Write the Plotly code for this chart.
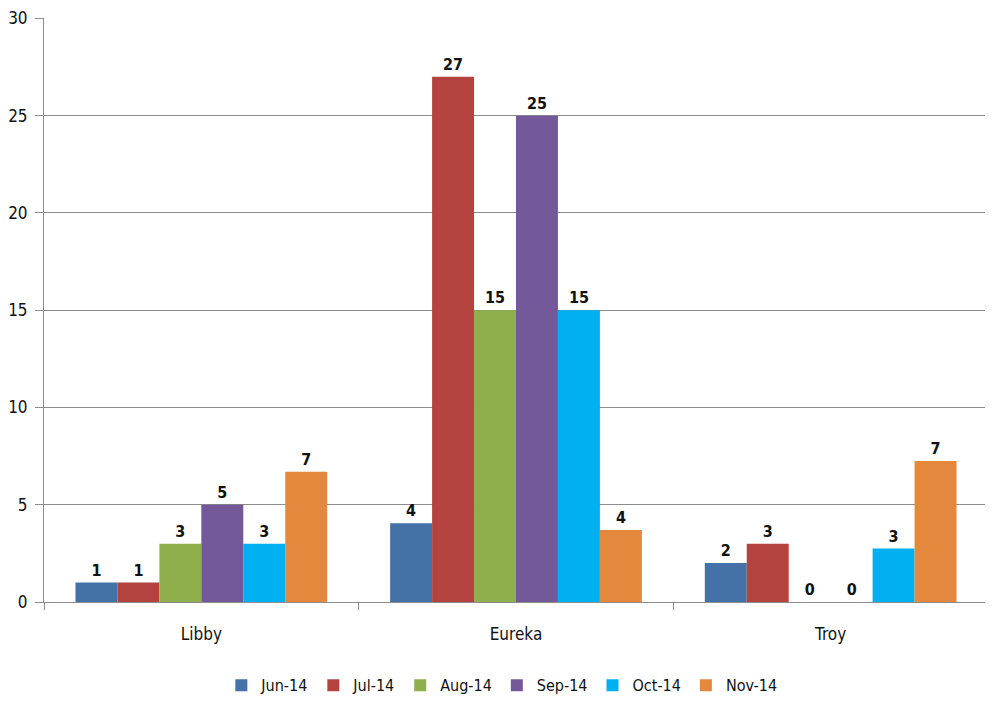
import plotly.graph_objects as go

categories = ["Libby", "Eureka", "Troy"]
months = ["Jun-14", "Jul-14", "Aug-14", "Sep-14", "Oct-14", "Nov-14"]
jun = [1, 4.05, 2]
jul = [1, 27, 3]
aug = [3, 15, 0]
sep = [5, 25, 0]
octo = [3, 15, 2.75]
nov = [6.7, 3.7, 7.25]
series = [jun, jul, aug, sep, octo, nov]
colors = ["#4471A8", "#B4423F", "#8FAE4C", "#73599A", "#00B0F0", "#E3883D"]
y_ticks = [0, 5, 10, 15, 20, 25, 30]

font_family = "DejaVu Sans Condensed, Liberation Sans Narrow, Arial"

fig = go.Figure()
for name, vals, col in zip(months, series, colors):
    fig.add_trace(go.Bar(
        x=categories, y=vals, name=name,
        marker=dict(color=col, line=dict(width=0)),
        texttemplate="<b>%{y:.0f}</b>", textposition="outside",
        textfont=dict(family=font_family, size=16, color="#111111"),
        cliponaxis=False,
    ))

fig.update_layout(
    barmode="group", bargap=0.2, bargroupgap=0,
    width=985, height=694,
    margin=dict(l=36, r=5, t=10, b=100),
    plot_bgcolor="white", paper_bgcolor="white",
    font=dict(family=font_family, size=16, color="#111111"),
    showlegend=True,
    legend=dict(orientation="h", x=0.485, xanchor="center",
                yref="container", y=0.024, yanchor="middle",
                font=dict(size=16), itemwidth=30, traceorder="normal"),
)
fig.update_yaxes(range=[0, 30.02], tickmode="array", tickvals=y_ticks,
                 showgrid=True, gridcolor="#8c8c8c", gridwidth=1,
                 showline=True, linecolor="#8c8c8c", ticks="outside", ticklen=8,
                 tickcolor="#8c8c8c", zeroline=False, tickfont=dict(size=17),
                 ticklabelstandoff=4, automargin=False)
fig.update_xaxes(showline=True, linecolor="#8c8c8c", ticks="outside", ticklen=7,
                 tickcolor="#8c8c8c", tickson="boundaries", tickfont=dict(size=17),
                 ticklabelstandoff=17, automargin=False)
# right border of plot area
fig.add_shape(type="line", xref="paper", yref="paper", x0=1, x1=1, y0=0, y1=1,
              line=dict(color="#8c8c8c", width=1))

fig.write_html("out.html")
